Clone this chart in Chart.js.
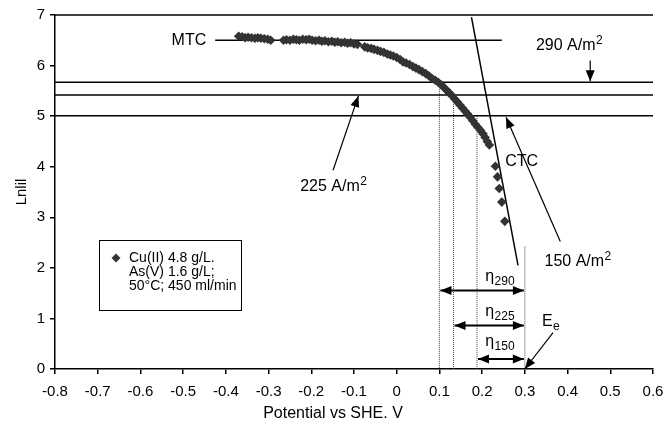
<!DOCTYPE html>
<html>
<head>
<meta charset="utf-8">
<script src="https://cdn.jsdelivr.net/npm/chart.js@4.4.1/dist/chart.umd.min.js"></script>
<style>
  html, body { margin: 0; padding: 0; background: #fff; }
  #wrap { width: 667px; height: 425px; }
</style>
</head>
<body>
<div id="wrap"><canvas id="chart" width="667" height="425"></canvas></div>
<script>
// measured points: potential (V vs SHE) and ln|i|
const potential = [
  -0.370, -0.362, -0.355, -0.348, -0.340, -0.332, -0.325, -0.318, -0.310, -0.302, -0.295,
  -0.265, -0.258, -0.250, -0.242, -0.235, -0.228, -0.220, -0.212, -0.205, -0.198, -0.190,
  -0.182, -0.175, -0.168, -0.160, -0.152, -0.145, -0.138, -0.130, -0.122, -0.115, -0.108,
  -0.100, -0.092,
  -0.075, -0.068, -0.060, -0.053, -0.045, -0.038, -0.030, -0.022, -0.015, -0.008, 0.000,
  0.008, 0.015, 0.022, 0.030, 0.038, 0.045, 0.052, 0.060, 0.068, 0.075, 0.082, 0.090,
  0.097, 0.104, 0.110, 0.117, 0.123, 0.130, 0.136, 0.142, 0.148, 0.154, 0.160, 0.166,
  0.172, 0.178, 0.184, 0.190, 0.196, 0.202, 0.207, 0.212, 0.217,
  0.231, 0.236, 0.240, 0.246, 0.253
];
const lnCurrent = [
  6.58, 6.57, 6.55, 6.56, 6.55, 6.54, 6.55, 6.54, 6.53, 6.52, 6.50,
  6.50, 6.51, 6.50, 6.52, 6.51, 6.50, 6.52, 6.51, 6.52, 6.50, 6.49,
  6.50, 6.48, 6.49, 6.47, 6.48, 6.46, 6.47, 6.45, 6.46, 6.44, 6.45,
  6.43, 6.42,
  6.37, 6.35, 6.34, 6.32, 6.30, 6.28, 6.26, 6.23, 6.21, 6.19, 6.16,
  6.12, 6.07, 6.05, 6.02, 5.98, 5.95, 5.92, 5.88, 5.84, 5.80, 5.75, 5.71,
  5.67, 5.62, 5.57, 5.51, 5.46, 5.40, 5.34, 5.28, 5.22, 5.16, 5.10, 5.04,
  4.98, 4.91, 4.84, 4.78, 4.72, 4.65, 4.58, 4.50, 4.43,
  4.01, 3.80, 3.57, 3.30, 2.92
];

// current density levels (ln of 290, 225, 150 A/m2)
const levelNames = ['290', '225', '150'];
const levelLn = [5.67, 5.42, 5.01];
// where each level meets the curve, and the equilibrium potential
const crossX = [0.1, 0.133, 0.188];
const crossTop = [5.66, 5.40, 5.0];
const eqPotential = 0.3;
const eqTop = 2.42;
const etaRows = [1.55, 0.86, 0.2];

// tangents
const mtcX = [-0.425, 0.246];
const mtcY = [6.5, 6.5];
const ctcX = [0.175, 0.284];
const ctcY = [6.96, 2.05];

const xTicks = [-0.8, -0.7, -0.6, -0.5, -0.4, -0.3, -0.2, -0.1, 0, 0.1, 0.2, 0.3, 0.4, 0.5, 0.6];

const FONT = 'Liberation Sans, Arial, sans-serif';
const points = potential.map((x, i) => ({ x, y: lnCurrent[i] }));

function seg(xs, ys, extra) {
  return Object.assign({
    data: xs.map((x, i) => ({ x, y: ys[i] })),
    showLine: true, pointRadius: 0, borderColor: '#000', borderWidth: 1.5,
    backgroundColor: '#000'
  }, extra || {});
}

const datasets = [{
  data: points,
  pointStyle: 'rectRot', pointRadius: 4.8, pointBorderWidth: 0,
  backgroundColor: '#333', borderColor: '#333', showLine: false
}];
levelLn.forEach(v => datasets.push(seg([-0.8, 0.6], [v, v])));
datasets.push(seg(mtcX, mtcY));
datasets.push(seg(ctcX, ctcY));
crossX.forEach((x, i) => datasets.push(seg([x, x], [crossTop[i], 0],
  { borderWidth: 1, borderDash: [1, 1], borderColor: '#444' })));
datasets.push(seg([eqPotential, eqPotential], [eqTop, 0],
  { borderWidth: 1, borderDash: [1, 1], borderColor: '#444' }));

function arrowHead(ctx, x1, y1, x2, y2, len, w) {
  const a = Math.atan2(y2 - y1, x2 - x1);
  ctx.beginPath();
  ctx.moveTo(x2, y2);
  ctx.lineTo(x2 - len * Math.cos(a) + w * Math.sin(a), y2 - len * Math.sin(a) - w * Math.cos(a));
  ctx.lineTo(x2 - len * Math.cos(a) - w * Math.sin(a), y2 - len * Math.sin(a) + w * Math.cos(a));
  ctx.closePath();
  ctx.fill();
}

function arrow(ctx, x1, y1, x2, y2, lw, both) {
  ctx.lineWidth = lw;
  ctx.beginPath();
  ctx.moveTo(x1, y1);
  ctx.lineTo(x2, y2);
  ctx.stroke();
  arrowHead(ctx, x1, y1, x2, y2, 11, 4.5);
  if (both) arrowHead(ctx, x2, y2, x1, y1, 11, 4.5);
}

// text with a superscript or subscript tail
function richText(ctx, x, y, main, tail, up, size) {
  ctx.font = size + 'px ' + FONT;
  ctx.textBaseline = 'middle';
  ctx.textAlign = 'left';
  ctx.fillText(main, x, y);
  const w = ctx.measureText(main).width;
  ctx.font = Math.round(size * 0.72) + 'px ' + FONT;
  ctx.fillText(tail, x + w + 0.5, y + (up ? -5 : 5));
}

const annotations = {
  id: 'annotations',
  afterDatasetsDraw(chart) {
    const ctx = chart.ctx;
    const xs = chart.scales.x, ys = chart.scales.y;
    const px = v => xs.getPixelForValue(v);
    const py = v => ys.getPixelForValue(v);
    const area = chart.chartArea;
    ctx.save();
    ctx.fillStyle = '#000';
    ctx.strokeStyle = '#000';

    // top frame line
    ctx.lineWidth = 1.5;
    ctx.beginPath();
    ctx.moveTo(area.left, area.top);
    ctx.lineTo(area.right, area.top);
    ctx.stroke();

    // overpotential arrows
    etaRows.forEach((r, i) => {
      arrow(ctx, px(crossX[i]) + 1, py(r), px(eqPotential) - 1, py(r), 2, true);
      richText(ctx, px(0.207), py(r) - (i === 2 ? 17 : 14), '\u03b7', levelNames[i], false, 16);
    });

    // labels
    ctx.font = '16px ' + FONT;
    ctx.textBaseline = 'middle';
    ctx.textAlign = 'right';
    ctx.fillText('MTC', px(-0.446), py(6.5));
    ctx.textAlign = 'left';
    ctx.fillText('CTC', px(0.254), py(4.1));

    richText(ctx, px(0.326), py(6.4), '290 A/m', '2', true, 16);
    arrow(ctx, px(0.453), py(6.1), px(0.453), py(5.69), 1.2, false);

    richText(ctx, px(-0.226), py(3.61), '225 A/m', '2', true, 16);
    arrow(ctx, px(-0.149), py(3.93), px(-0.0897), py(5.40), 1.2, false);

    richText(ctx, px(0.346), py(2.12), '150 A/m', '2', true, 16);
    arrow(ctx, px(0.383), py(2.52), px(0.256), py(4.98), 1.2, false);

    richText(ctx, px(0.34), py(0.94), 'E', 'e', false, 16);
    arrow(ctx, px(0.366), py(0.72), px(eqPotential), py(0), 1.2, false);

    // legend box
    ctx.lineWidth = 1;
    ctx.strokeRect(99.5, 240.5, 142, 70);
    ctx.fillStyle = '#333';
    ctx.beginPath();
    ctx.moveTo(116, 253.5); ctx.lineTo(120.5, 258); ctx.lineTo(116, 262.5); ctx.lineTo(111.5, 258);
    ctx.closePath();
    ctx.fill();
    ctx.fillStyle = '#000';
    ctx.font = '14px ' + FONT;
    ctx.textAlign = 'left';
    ctx.fillText('Cu(II) 4.8 g/L.', 129, 258);
    ctx.fillText('As(V) 1.6 g/L;', 129, 272);
    ctx.fillText('50\u00b0C; 450 ml/min', 129, 286);

    // x axis title
    ctx.font = '16px ' + FONT;
    ctx.textAlign = 'center';
    ctx.fillText('Potential vs SHE. V', 333, 414);
    ctx.restore();
  }
};

new Chart(document.getElementById('chart'), {
  type: 'scatter',
  data: { datasets },
  options: {
    responsive: false,
    animation: false,
    events: [],
    layout: { padding: { top: 15, right: 14, left: 0, bottom: 0 } },
    plugins: { legend: { display: false }, tooltip: { enabled: false } },
    scales: {
      x: {
        type: 'linear', min: -0.8, max: 0.6,
        afterBuildTicks: s => { s.ticks = xTicks.map(v => ({ value: v })); },
        afterFit: s => { s.height = 56; s.paddingLeft = 0; s.paddingRight = 0; },
        ticks: {
          color: '#000', font: { family: FONT, size: 15 }, padding: 9, maxRotation: 0,
          autoSkip: false,
          callback: v => (Math.abs(v) < 1e-9 ? '0' : v.toFixed(1))
        },
        grid: { drawOnChartArea: false, tickLength: 5, color: '#000', lineWidth: 1.5 },
        border: { color: '#000', width: 1.5 }
      },
      y: {
        min: 0, max: 7,
        afterFit: s => { s.width = 55; s.paddingTop = 0; s.paddingBottom = 0; },
        ticks: { stepSize: 1, color: '#000', font: { family: FONT, size: 15 }, padding: 5 },
        grid: { drawOnChartArea: false, tickLength: 5, color: '#000', lineWidth: 1.5 },
        border: { color: '#000', width: 1.5 },
        title: { display: true, text: 'Lnlil', color: '#000', font: { family: FONT, size: 15 },
                 padding: { top: 13, bottom: 0 } }
      }
    }
  },
  plugins: [annotations]
});
</script>
</body>
</html>
